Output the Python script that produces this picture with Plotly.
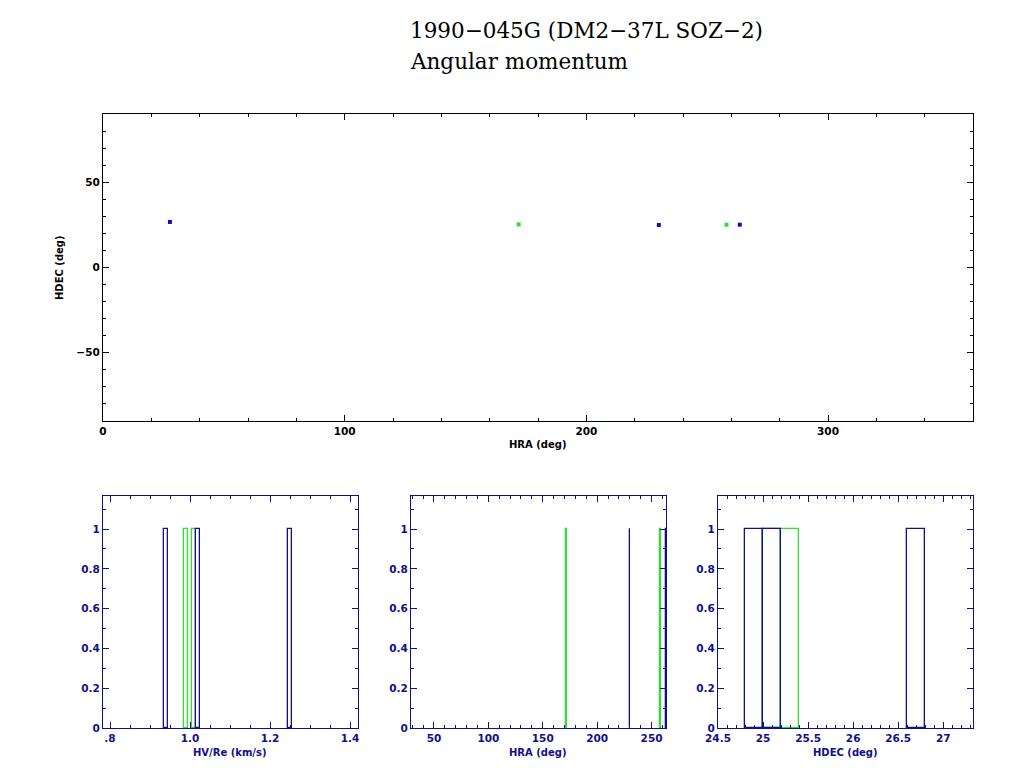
import plotly.graph_objects as go

# ---- data ----
blue_hra = [27.7, 230.0, 263.5]
blue_hdec = [26.7, 24.9, 25.1]
blue_hv = [0.941, 1.021, 1.251]
green_hra = [172.0, 258.0]
green_hdec = [25.3, 25.1]
green_hv = [0.991, 1.011]

title_line1 = "1990\u2212045G (DM2\u221237L SOZ\u22122)"
title_line2 = "Angular momentum"
hv_tickvals = [0.8, 1.0, 1.2, 1.4]
hv_ticktext = [".8", "1.0", "1.2", "1.4"]
top_xtitle = "HRA (deg)"
top_ytitle = "HDEC (deg)"
hist_titles = ["HV/Re (km/s)", "HRA (deg)", "HDEC (deg)"]

BLUE = "#1010b8"
GREEN = "#33dd33"
NAVY = "#10108a"
tickfont = dict(family="DejaVu Sans", size=10.5, color="black", weight="bold")
navyfont = dict(family="DejaVu Sans", size=10.5, color=NAVY, weight="bold")
titlefont = dict(family="DejaVu Sans", size=10, color="black", weight="bold")
navytitle = dict(family="DejaVu Sans", size=10, color=NAVY, weight="bold")

fig = go.Figure()

# top scatter
fig.add_trace(go.Scatter(x=blue_hra, y=blue_hdec, mode="markers",
                         marker=dict(symbol="square", size=4, color=BLUE, line=dict(width=0)),
                         xaxis="x", yaxis="y", showlegend=False))
fig.add_trace(go.Scatter(x=green_hra, y=green_hdec, mode="markers",
                         marker=dict(symbol="square", size=4, color=GREEN, line=dict(width=0)),
                         xaxis="x", yaxis="y", showlegend=False))

def hist(vals, color, xa, ya, start, size):
    return go.Histogram(x=vals, xbins=dict(start=start, end=400, size=size),
                        marker=dict(color="rgba(0,0,0,0)", line=dict(color=color, width=1.3)),
                        xaxis=xa, yaxis=ya, showlegend=False)

fig.add_trace(hist(green_hv, GREEN, "x2", "y2", 0.006, 0.01))
fig.add_trace(hist(blue_hv, NAVY, "x2", "y2", 0.006, 0.01))
fig.add_trace(hist(green_hra, GREEN, "x3", "y3", 0.0, 0.6))
fig.add_trace(hist(blue_hra, NAVY, "x3", "y3", 0.0, 0.6))
fig.add_trace(hist(green_hdec, GREEN, "x4", "y4", 24.0, 0.2))
fig.add_trace(hist(blue_hdec, NAVY, "x4", "y4", 24.0, 0.2))

def ax(domain, rng, color, dtick, minor, font, anchor, **kw):
    d = dict(domain=domain, range=rng, showline=True, linecolor=color, linewidth=1.3,
             mirror="allticks", ticks="inside", ticklen=6, tickcolor=color, tickwidth=1,
             dtick=dtick, showgrid=False, zeroline=False, tickfont=font, anchor=anchor,
             automargin=False,
             minor=dict(dtick=minor, ticks="inside", ticklen=3, tickcolor=color, tickwidth=1,
                        showgrid=False))
    d.update(kw)
    return d

hy = [1 - 728 / 768, 1 - 496 / 768]
fig.update_layout(
    width=1024, height=768, margin=dict(l=0, r=0, t=0, b=0),
    plot_bgcolor="white", paper_bgcolor="white", barmode="overlay", bargap=0,
    xaxis=ax([103 / 1024, 973 / 1024], [0, 360], "black", 100, 20, tickfont, "y"),
    yaxis=ax([1 - 421 / 768, 1 - 114 / 768], [-90, 90], "black", 50, 10, tickfont, "x"),
    xaxis2=ax([103 / 1024, 358 / 1024], [0.7825, 1.42], NAVY, None, 0.05, navyfont, "y2",
              tickmode="array", tickvals=hv_tickvals, ticktext=hv_ticktext),
    yaxis2=ax(hy, [0, 1.166], NAVY, 0.2, 0.1, navyfont, "x2"),
    xaxis3=ax([411 / 1024, 666 / 1024], [28.9, 263.3], NAVY, 50, 10, navyfont, "y3"),
    yaxis3=ax(hy, [0, 1.166], NAVY, 0.2, 0.1, navyfont, "x3"),
    xaxis4=ax([718 / 1024, 973 / 1024], [24.5, 27.33], NAVY, 0.5, 0.1, navyfont, "y4"),
    yaxis4=ax(hy, [0, 1.166], NAVY, 0.2, 0.1, navyfont, "x4"),
)

def label(text, x, y, font, angle=0):
    fig.add_annotation(text=text, xref="paper", yref="paper", x=x / 1024, y=1 - y / 768,
                       xanchor="center", yanchor="middle", showarrow=False, textangle=angle,
                       font=font)

label(top_xtitle, 538, 444, titlefont)
label(top_ytitle, 60, 268, titlefont, -90)
for t, cx in zip(hist_titles, [230, 538, 845]):
    label(t, cx, 752, navytitle)

fig.add_annotation(text=title_line1, xref="paper", yref="paper", x=408 / 1024, y=1 - 30 / 768,
                   xanchor="left", yanchor="middle", showarrow=False,
                   font=dict(family="DejaVu Serif", size=21.5, color="black"))
fig.add_annotation(text=title_line2, xref="paper", yref="paper", x=408 / 1024, y=1 - 61 / 768,
                   xanchor="left", yanchor="middle", showarrow=False,
                   font=dict(family="DejaVu Serif", size=21.5, color="black"))

fig.write_html("out.html", config={"displayModeBar": False},
               post_script="document.body.style.margin='0';")
